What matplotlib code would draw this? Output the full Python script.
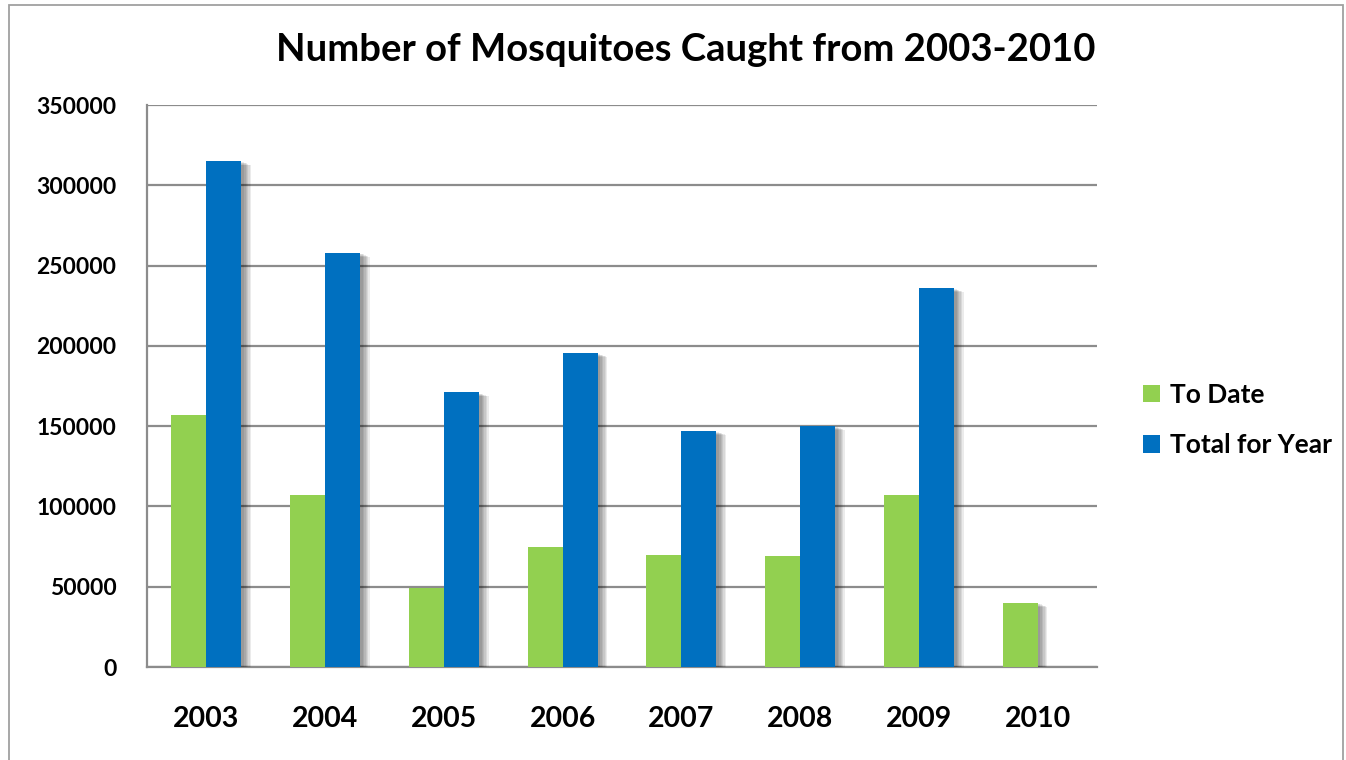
import matplotlib
matplotlib.use("Agg")
import matplotlib.pyplot as plt
import matplotlib.patheffects as pe
from matplotlib.patches import Rectangle, Patch
import numpy as np

years = ["2003", "2004", "2005", "2006", "2007", "2008", "2009", "2010"]
to_date = [157000, 107000, 49000, 75000, 69500, 69000, 107000, 40000]
total_for_year = [315000, 258000, 171000, 195500, 147000, 150000, 236000, np.nan]
y_ticks = [0, 50000, 100000, 150000, 200000, 250000, 300000, 350000]

GREEN = "#92d050"
BLUE = "#0070c0"
GRID = "#8c8c8c"
FONT = "Lato"

fig = plt.figure(figsize=(13.46, 7.6), dpi=100)
fig.patch.set_facecolor("white")

# thin grey frame around the whole chart
fig.add_artist(Rectangle((9 / 1346, -0.01), 1334 / 1346, 1 - 5 / 760 + 0.01,
                         transform=fig.transFigure, fill=False,
                         edgecolor="#a0a0a0", linewidth=1.3))

ax = fig.add_axes([147 / 1346, 93 / 760, 950 / 1346, 562 / 760])

x = np.arange(len(years))
w = 0.295

# soft drop shadow to the lower right of each bar
shadow = [pe.SimplePatchShadow(offset=(d, -d * 0.4), shadow_rgbFace="#000000", alpha=0.08)
          for d in (7, 6, 5, 4, 3, 2)] + [pe.Normal()]

b1 = ax.bar(x - w / 2, to_date, w, color=GREEN, zorder=3)
b2 = ax.bar(x + w / 2, total_for_year, w, color=BLUE, zorder=3)
for b in list(b1) + list(b2):
    b.set_path_effects(shadow)

ax.set_xlim(-0.5, len(years) - 0.5)
ax.set_ylim(0, 350000)
ax.set_yticks(y_ticks)
ax.set_yticklabels([str(v) for v in y_ticks], fontfamily=FONT, fontweight="bold", fontsize=16.5)
ax.set_xticks(x)
ax.set_xticklabels(years, fontfamily=FONT, fontweight="bold", fontsize=20.5)
ax.tick_params(axis="both", length=0)
ax.tick_params(axis="y", pad=22)
ax.tick_params(axis="x", pad=28)

ax.yaxis.grid(True, color=GRID, linewidth=1.6, zorder=0)
ax.set_axisbelow(True)
for s in ("top", "right"):
    ax.spines[s].set_visible(False)
for s in ("left", "bottom"):
    ax.spines[s].set_color(GRID)
    ax.spines[s].set_linewidth(1.6)

fig.text(686 / 1346, 1 - 50 / 760, "Number of Mosquitoes Caught from 2003-2010",
         ha="center", va="center", fontfamily=FONT, fontweight="bold", fontsize=27.5)

handles = [Patch(facecolor=GREEN, label="To Date"), Patch(facecolor=BLUE, label="Total for Year")]
fig.legend(handles=handles, loc="center left", bbox_to_anchor=(1119 / 1346, 1 - 420 / 760),
           frameon=False, prop={"family": FONT, "weight": "bold", "size": 19},
           handlelength=0.65, handleheight=0.65, handletextpad=0.4, labelspacing=1.0)

fig.savefig("out.png", dpi=100, facecolor="white")
